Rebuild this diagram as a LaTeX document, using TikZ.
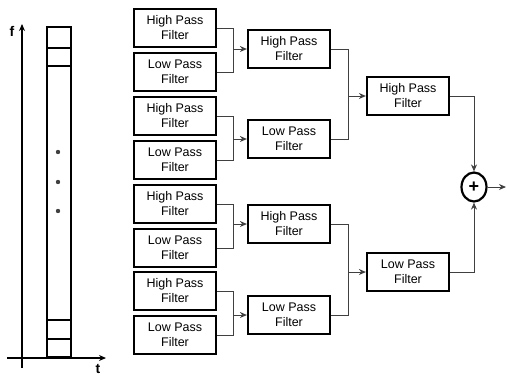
\documentclass[tikz,border=0pt]{standalone}
\usepackage{fontspec}
\setmainfont{Liberation Sans}
\usepackage{tikz}
\usetikzlibrary{arrows.meta,positioning,shapes.geometric}

\begin{document}
\begin{tikzpicture}[
    x=1pt, y=-1pt,
    filter/.style={draw, line width=2.2pt, minimum width=82pt, minimum height=38pt,
        inner sep=1pt, align=center, font=\fontsize{12.5}{15}\selectfont},
    link/.style={line width=0.9pt, black!75},
    axis/.style={line width=2pt},
    strip/.style={line width=1.8pt},
    >={Stealth[length=7pt,width=6pt]}
]
\useasboundingbox (0,0) rectangle (507,376);

% Time-frequency tiling
\draw[axis, ->] (22,368) -- (22,24);
\draw[axis, ->] (7,358) -- (106,358);
\node[font=\bfseries\fontsize{14}{14}\selectfont] (flab) at (12,31) {f};
\node[font=\bfseries\fontsize{14}{14}\selectfont] (tlab) at (98,369) {t};
\draw[strip] (47,27) rectangle (71,357);
\draw[strip] (47,48) -- (71,48);
\draw[strip] (47,66) -- (71,66);
\draw[strip] (47,320) -- (71,320);
\draw[strip] (47,339) -- (71,339);
\foreach \y in {152,182,211}
    \fill[black!75] (58,\y) circle (2.2pt);

% First stage
\node[filter] (a1) at (175,28)  {High Pass\\Filter};
\node[filter] (a2) at (175,72)  {Low Pass\\Filter};
\node[filter] (a3) at (175,116) {High Pass\\Filter};
\node[filter] (a4) at (175,160) {Low Pass\\Filter};
\node[filter] (a5) at (175,204) {High Pass\\Filter};
\node[filter] (a6) at (175,248) {Low Pass\\Filter};
\node[filter] (a7) at (175,291) {High Pass\\Filter};
\node[filter] (a8) at (175,335) {Low Pass\\Filter};

% Second stage
\node[filter] (b1) at (289,49)  {High Pass\\Filter};
\node[filter] (b2) at (289,139) {Low Pass\\Filter};
\node[filter] (b3) at (289,224) {High Pass\\Filter};
\node[filter] (b4) at (289,315) {Low Pass\\Filter};

% Third stage
\node[filter] (c1) at (408,96)  {High Pass\\Filter};
\node[filter] (c2) at (408,272) {Low Pass\\Filter};

% Sum
\node[draw, ellipse, line width=2.2pt, minimum width=25pt, minimum height=29pt,
    inner sep=0pt, font=\bfseries\fontsize{18}{18}\selectfont] (sum) at (474,187) {+};
\coordinate (out) at (506,187);

% Connections
\coordinate[left=13pt of b1.west] (j1);
\coordinate[left=13pt of b2.west] (j2);
\coordinate[left=13pt of b3.west] (j3);
\coordinate[left=13pt of b4.west] (j4);
\coordinate[left=17pt of c1.west] (k1);
\coordinate[left=17pt of c2.west] (k2);

\draw[link] (a1.east) -| (j1) |- (a2.east);
\draw[link] (a3.east) -| (j2) |- (a4.east);
\draw[link] (a5.east) -| (j3) |- (a6.east);
\draw[link] (a7.east) -| (j4) |- (a8.east);
\draw[link, ->] (j1) -- (b1.west);
\draw[link, ->] (j2) -- (b2.west);
\draw[link, ->] (j3) -- (b3.west);
\draw[link, ->] (j4) -- (b4.west);

\draw[link] (b1.east) -| (k1) |- (b2.east);
\draw[link] (b3.east) -| (k2) |- (b4.east);
\draw[link, ->] (k1) -- (c1.west);
\draw[link, ->] (k2) -- (c2.west);

\draw[link, ->] (c1.east) -| (sum.north);
\draw[link, ->] (c2.east) -| (sum.south);
\draw[link, ->] (sum.east) -- (out);

\end{tikzpicture}
\end{document}
